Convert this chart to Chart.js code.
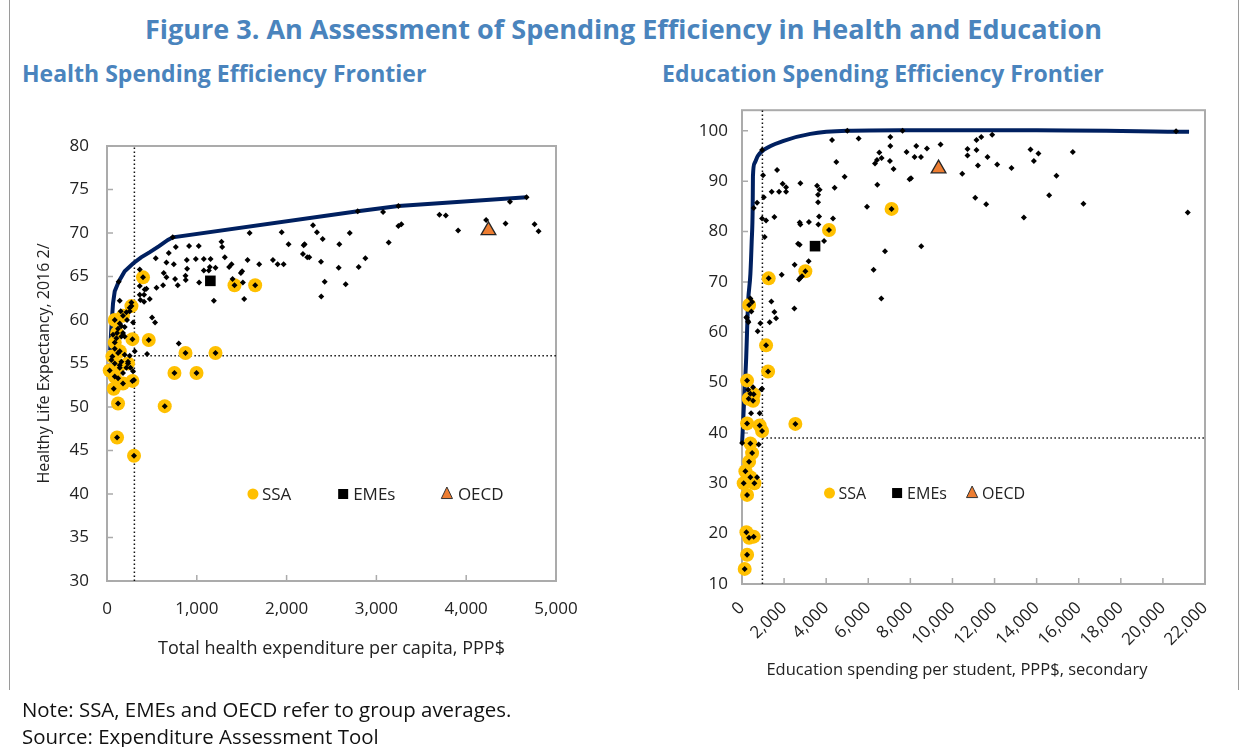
<!DOCTYPE html>
<html><head><meta charset="utf-8">
<script src="https://cdn.jsdelivr.net/npm/chart.js@4"></script>
<style>
html,body{margin:0;padding:0;background:#fff;}
body{width:1247px;height:747px;position:relative;overflow:hidden;font-family:"Open Sans",sans-serif;}
.t{position:absolute;white-space:nowrap;}
#title{left:0;width:1247px;text-align:center;top:10px;font-size:27px;line-height:38px;font-weight:700;color:#4a84bd;}
.sub{top:57px;font-size:23px;line-height:32px;font-weight:700;color:#4a84bd;}
.note{left:22px;font-size:20.4px;line-height:27px;color:#111;}
#eduXTitle{left:757px;width:400px;text-align:center;top:657px;font-size:16.5px;line-height:24px;color:#222;}
#frame{position:absolute;left:9px;top:-2px;width:1228px;height:692px;border-left:1px solid #9a9a9a;border-right:1px solid #9a9a9a;}
canvas{position:absolute;}
</style></head><body>
<div id="frame"></div>
<div class="t" id="title">Figure 3. An Assessment of Spending Efficiency in Health and Education</div>
<div class="t sub" style="left:22px">Health Spending Efficiency Frontier</div>
<div class="t sub" style="left:662px">Education Spending Efficiency Frontier</div>
<canvas id="healthChart" width="620" height="600" style="left:0;top:100px"></canvas>
<canvas id="eduChart" width="617" height="614" style="left:630px;top:86px"></canvas>
<div class="t" id="eduXTitle">Education spending per student, PPP$, secondary</div>
<div class="t note" style="top:696px">Note: SSA, EMEs and OECD refer to group averages.</div>
<div class="t note" style="top:723px">Source: Expenditure Assessment Tool</div>
<script>
// ---------------- Health chart data ----------------
const healthXTicks = [0,1000,2000,3000,4000,5000];
const healthYTicks = [30,35,40,45,50,55,60,65,70,75,80];
const healthFrontier = [[35,56.5],[49,59.2],[67,61.9],[86,63.3],[130,64.4],[197,65.6],[290,66.5],[380,67.2],[477,67.8],[580,68.5],[678,69.2],[732,69.5],[2792,72.5],[3245,73.1],[4672,74.1]];
const healthOthers = [[130,64.4],[732,69.5],[2792,72.5],[3245,73.1],[4672,74.1],
[365,65.8],[543,67.1],[688,67.7],[766,68.4],[914,68.5],[1022,68.5],[1275,69.0],[1283,68.4],[662,66.6],[744,66.4],[889,66.9],[989,67.0],[1078,67.0],[1153,67.0],[1312,67.2],[1208,66.0],[892,65.9],[758,64.7],[874,65.1],[877,64.6],[632,65.4],[662,64.9],[624,64.0],[551,63.7],[788,64.0],[1026,64.3],[1078,65.7],[1145,66.1],[1134,65.7],[1360,66.1],[1387,66.4],[1491,65.4],[1505,65.6],[1513,64.3],[1398,64.7],[1565,66.9],[1588,70.0],[1695,66.4],[1528,62.4],[1190,62.2],[1848,66.9],[1900,66.4],[1967,66.4],[1945,70.1],[2022,68.7],[2190,68.6],[2201,68.7],[2294,70.9],[2338,70.1],[2402,69.3],[2182,67.6],[2230,67.2],[2252,67.2],[2383,66.7],[2587,68.7],[2703,70.0],[2580,66.0],[2803,66.1],[2424,64.4],[2386,62.7],[2658,64.1],[502,60.3],[535,59.7],
[365,63.9],[439,63.6],[413,62.9],[365,62.9],[476,62.4],[372,62.3],[413,62.1],[420,63.5],
[290,59.7],[253,61.0],[153,61.0],[223,60.0],
[2877,67.1],[3074,72.4],[3137,68.9],[3245,70.8],[3278,71.0],[3702,72.1],[3773,72.0],[3910,70.3],[4222,71.5],[4438,71.1],[4487,73.6],[4761,71.0],[4806,70.2],
[799,57.3],[446,56.1],[309,56.4],[253,55.9],
[142,59.6],[160,59.3],[197,59.2],[123,59.0],[178,58.5],[67,58.3],[105,57.9],[160,58.1],[197,58.1],[86,56.7],[123,56.2],[197,56.0],[160,55.2],[234,55.2],[142,54.5],[216,54.5],[261,54.5],[290,54.1],[301,53.1],[123,53.3],[178,53.9],[49,55.4],[86,55.0],[272,62.0],[253,61.4],[216,60.9],[142,62.2]];
const healthSSA = [[272,61.6],[401,64.9],[1420,64.0],[1650,64.0],[86,60.0],[178,60.5],[112,58.5],[86,57.4],[283,57.8],[465,57.7],[142,56.4],[60,55.8],[234,55.0],[142,54.8],[30,54.2],[86,53.5],[178,52.7],[283,53.0],[75,52.1],[123,50.4],[112,46.5],[301,44.4],[643,50.1],[751,53.9],[997,53.9],[874,56.2],[1208,56.2]];
const healthEME = [[1151,64.5]];
const healthOECD = [[4248,70.3]];
const healthRefX = [305];
const healthRefY = [55.9];

// ---------------- Education chart data ----------------
const eduXTicks = [0,2000,4000,6000,8000,10000,12000,14000,16000,18000,20000,22000];
const eduYTicks = [10,20,30,40,50,60,70,80,90,100];
const eduFrontier = [[5,38.0],[120,48],[200,55],[242,60.4],[290,66.0],[399,71.6],[460,78],[508,84.9],[520,91.0],[600,93.6],[750,95.0],[1030,96.2],[1980,98.0],[3248,99.4],[4990,100.0],[7521,100.1],[14000,100.1],[21243,99.8]];
const eduOthers = [[5,38.0],[954,96.2],[1002,91.2],[1036,86.8],[717,85.7],[555,84.7],[954,82.6],[1144,82.2],[1538,82.9],[1078,78.9],[1666,92.2],[1410,87.9],[1761,87.9],[2094,87.9],[1932,89.5],[2094,88.8],[2773,89.6],[3566,89.1],[3689,88.3],[3614,87.3],[3614,85.8],[3661,83.0],[3629,81.4],[4325,82.6],[4401,88.7],[4482,93.8],[4278,98.2],[5004,100.0],[5541,98.5],[4876,90.9],[5940,84.9],[6429,89.3],[6320,93.5],[6414,94.2],[6524,95.7],[6633,94.6],[7046,98.8],[7046,97.0],[7030,94.0],[7203,92.4],[7630,100.0],[7820,95.8],[7963,90.4],[8029,90.6],[8200,94.8],[8281,97.0],[8504,94.8],[8788,96.5],[9435,97.3],[6253,72.4],[6794,76.1],[6619,66.7],[8518,77.1],[3898,78.1],[3167,74.1],[2502,73.4],[2740,81.8],[2773,81.4],[3182,81.9],[2664,77.6],[2740,77.4],[2708,70.5],[2773,70.8],[2851,71.1],[1885,71.4],[2488,64.7],[1396,66.1],[1538,64.0],[1619,62.8],[1315,62.0],[874,61.8],[223,62.9],[304,62.0],[399,66.7],[480,66.0],[446,64.1],
[10465,91.5],[10716,96.4],[10716,95.1],[11144,98.2],[11367,98.8],[11889,99.2],[11144,96.2],[11666,94.8],[11210,93.1],[12126,93.3],[12806,92.6],[11082,86.7],[11604,85.4],[13394,82.8],[13708,96.3],[14087,95.5],[13869,94.0],[14942,91.1],[14595,87.2],[15720,95.8],[16224,85.5],[20626,99.9],[21181,83.8],
[745,60.2],[954,48.8],[527,49.1],[432,43.9],[840,43.9],[793,37.7],[717,31.2],[290,48.6],[399,47.8],[921,48.7],[209,63.0],[290,62.2]];
const eduSSA = [[340,65.4],[1268,70.7],[3010,72.1],[4135,80.3],[7108,84.5],[1144,57.4],[1239,52.2],[242,50.4],[555,47.7],[318,46.8],[527,46.4],[242,41.9],[840,41.5],[954,40.4],[2535,41.8],[399,37.9],[480,36.0],[337,34.3],[161,32.4],[399,31.2],[81,30.0],[589,30.0],[242,27.7],[209,20.3],[337,19.2],[555,19.4],[242,15.8],[128,13.0]];
const eduEME = [[3471,77.1]];
const eduOECD = [[9340,92.5]];
const eduRefX = [970];
const eduRefY = [39.0];

// ---------------- helpers ----------------
const FONT = "'Open Sans', sans-serif";
const toPts = a => a.map(([x,y]) => ({x, y}));
const fmt = v => Number(v).toLocaleString('en-US');

const legendDefs = {
  healthChart: {y:0.80, font:"17px " + FONT, items:[
    {shape:'circle', x:0.325, r:5.5, gap:9, label:'SSA'},
    {shape:'square', x:0.526, r:5, gap:10, label:'EMEs'},
    {shape:'tri', x:0.757, r:7, gap:11, label:'OECD'}]},
  eduChart: {y:0.808, font:"16px " + FONT, items:[
    {shape:'circle', x:0.189, r:5.5, gap:9, label:'SSA'},
    {shape:'square', x:0.335, r:5, gap:10, label:'EMEs'},
    {shape:'tri', x:0.497, r:7, gap:10, label:'OECD'}]}
};

const boxTicks = {
  id:'boxTicks',
  beforeDatasetsDraw(chart){
    const {ctx, chartArea:a, scales:{x, y}} = chart;
    ctx.save();
    ctx.strokeStyle = '#ababab'; ctx.lineWidth = 2;
    ctx.strokeRect(a.left, a.top, a.right - a.left, a.bottom - a.top);
    ctx.lineWidth = 1.5; ctx.beginPath();
    x.ticks.forEach(t => { const p = x.getPixelForValue(t.value); ctx.moveTo(p, a.bottom); ctx.lineTo(p, a.bottom - 6); });
    y.ticks.forEach(t => { const p = y.getPixelForValue(t.value); ctx.moveTo(a.left, p); ctx.lineTo(a.left + 6, p); });
    ctx.stroke(); ctx.restore();
  }
};

const insideLegend = {
  id:'insideLegend',
  afterDraw(chart){
    const o = legendDefs[chart.canvas.id];
    if (!o) return;
    const {ctx, chartArea:a} = chart;
    const yy = a.top + o.y * (a.bottom - a.top);
    ctx.save();
    ctx.font = o.font; ctx.textBaseline = 'middle'; ctx.textAlign = 'left';
    o.items.forEach(it => {
      const xx = a.left + it.x * (a.right - a.left);
      ctx.beginPath();
      if (it.shape === 'circle') { ctx.arc(xx, yy, it.r, 0, Math.PI*2); ctx.fillStyle = '#ffc000'; ctx.fill(); }
      else if (it.shape === 'square') { ctx.fillStyle = '#000'; ctx.fillRect(xx - it.r, yy - it.r, 2*it.r, 2*it.r); }
      else { ctx.moveTo(xx, yy - it.r); ctx.lineTo(xx + it.r*0.8, yy + it.r*0.65); ctx.lineTo(xx - it.r*0.8, yy + it.r*0.65); ctx.closePath();
             ctx.fillStyle = '#ed7d31'; ctx.fill(); ctx.strokeStyle = '#333'; ctx.lineWidth = 1; ctx.stroke(); }
      ctx.fillStyle = '#222'; ctx.fillText(it.label, xx + it.gap, yy + 1);
    });
    ctx.restore();
  }
};

function refLines(refX, refY, xr, yr) {
  const dash = {showLine:true, pointRadius:0, borderColor:'#111', borderWidth:1.5, borderDash:[1.5,2.5], order:4, clip:false};
  return [
    Object.assign({data:[{x:refX[0], y:yr[0]}, {x:refX[0], y:yr[1]}]}, dash),
    Object.assign({data:[{x:refX[0], y:refY[0]}, {x:xr[1], y:refY[0]}]}, dash)
  ];
}

function build(id, d) {
  const datasets = [
    {data:toPts(d.eme), pointStyle:'rect', pointRadius:7.5, backgroundColor:'#000', borderWidth:0, order:0, clip:false},
    {data:toPts(d.oecd), pointStyle:'triangle', pointRadius:8.5, backgroundColor:'#ed7d31', borderColor:'#262626', borderWidth:1.3, order:0, clip:false},
    {data:toPts(d.others.concat(d.ssa)), pointStyle:'rectRot', pointRadius:3, backgroundColor:'#000', borderWidth:0, order:1, clip:false},
    {data:toPts(d.ssa), pointStyle:'circle', pointRadius:7, backgroundColor:'#ffc000', borderWidth:0, order:2, clip:false},
    Object.assign({data:toPts(d.frontier), showLine:true, pointRadius:0, borderColor:'#002060', borderWidth:4, order:3, clip:false}, d.lineOpts),
    ...refLines(d.refX, d.refY, d.xr, d.yr)
  ];
  return new Chart(document.getElementById(id), {
    type:'scatter',
    data:{datasets},
    options:{
      responsive:false, animation:false, events:[],
      layout:{padding:d.pad},
      plugins:{legend:{display:false}, tooltip:{enabled:false}},
      scales:{
        x:{type:'linear', min:d.xr[0], max:d.xr[1],
           afterBuildTicks:s => { s.ticks = d.xt.map(v => ({value:v})); },
           afterFit:s => { s.height = d.xh; },
           grid:{display:false, drawTicks:false}, border:{display:false},
           ticks:{autoSkip:false, minRotation:d.rot, maxRotation:d.rot, padding:d.xpad, color:'#222', font:{family:FONT, size:17}, callback:v => fmt(v)},
           title:{display:!!d.xtitle, text:d.xtitle || '', color:'#222', font:{family:FONT, size:18}, padding:0}},
        y:{type:'linear', min:d.yr[0], max:d.yr[2],
           afterBuildTicks:s => { s.ticks = d.yt.map(v => ({value:v})); },
           afterFit:s => { s.width = d.yw; },
           grid:{display:false, drawTicks:false}, border:{display:false},
           ticks:{autoSkip:false, padding:d.ypad, color:'#222', font:{family:FONT, size:17}, callback:v => String(v)},
           title:{display:!!d.ytitle, text:d.ytitle || '', color:'#222', font:{family:FONT, size:16}, padding:0}}
      }
    },
    plugins:[boxTicks, insideLegend]
  });
}

build('healthChart', {
  frontier:healthFrontier, others:healthOthers, ssa:healthSSA, eme:healthEME, oecd:healthOECD,
  refX:healthRefX, refY:healthRefY, xr:[0,5000], yr:[30,80,80], xt:healthXTicks, yt:healthYTicks,
  pad:{left:35, top:46, right:64, bottom:40}, xh:79, yw:72, xpad:18, ypad:18, rot:0,
  xtitle:'Total health expenditure per capita, PPP$', ytitle:'Healthy Life Expectancy, 2016 2/',
  lineOpts:{tension:0}
});
build('eduChart', {
  frontier:eduFrontier, others:eduOthers, ssa:eduSSA, eme:eduEME, oecd:eduOECD,
  refX:eduRefX, refY:eduRefY, xr:[0,22000], yr:[10,104.1,104.1], xt:eduXTicks, yt:eduYTicks,
  pad:{left:0, top:10, right:42, bottom:21}, xh:95, yw:112, xpad:14, ypad:14, rot:45,
  xtitle:'', ytitle:'',
  lineOpts:{cubicInterpolationMode:'monotone'}
});
</script>
</body></html>
